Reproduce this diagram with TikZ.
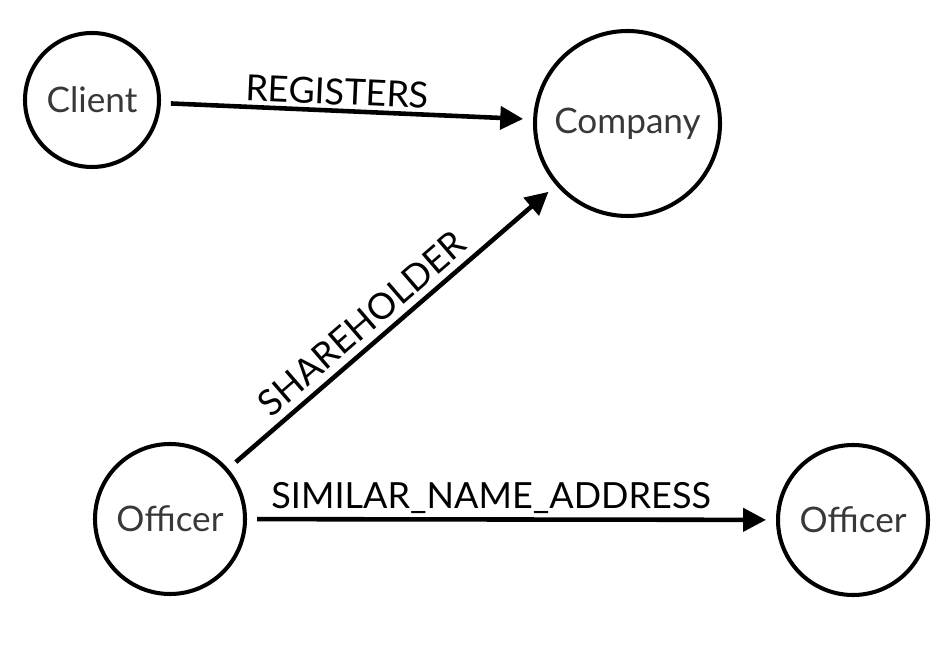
\documentclass[tikz,border=0pt]{standalone}
\usepackage{fontspec}
\setmainfont{Lato}
\usetikzlibrary{arrows.meta,positioning}

\tikzset{
    entity/.style={circle, draw, line width=2.3pt, text=black!78,
        font=\fontsize{20}{24}\selectfont, outer sep=0.24cm},
    rel/.style={-{Triangle[length=13pt,width=13pt]}, line width=2.6pt},
    rellabel/.style={font=\fontsize{20.5}{24}\selectfont, inner sep=2pt}
}

\begin{document}
\begin{tikzpicture}
        \useasboundingbox (0,0) rectangle (18.94,12.9);
        % the four entities
        \node[entity, minimum size=2.68cm] (client) at (1.84, 10.9) {Client};
        \node[entity, minimum size=3.7cm] (company) at (12.55, 10.43) {Company};
        \node[entity, minimum size=3cm] (officerA) at (3.4, 2.52) {Officer};
        \node[entity, minimum size=3cm] (officerB) at (17.06, 2.5) {Officer};
        % relationships
        \draw[rel] (client) -- (company)
            node[rellabel, sloped, above, pos=0.47] {REGISTERS};
        \draw[rel] (officerA) -- (company)
            node[rellabel, sloped, above=2pt, pos=0.45] {SHAREHOLDER};
        \draw[rel] (officerA) -- (officerB)
            node[rellabel, above=0pt, pos=0.46] {SIMILAR\_NAME\_ADDRESS};
    \end{tikzpicture}
\end{document}
